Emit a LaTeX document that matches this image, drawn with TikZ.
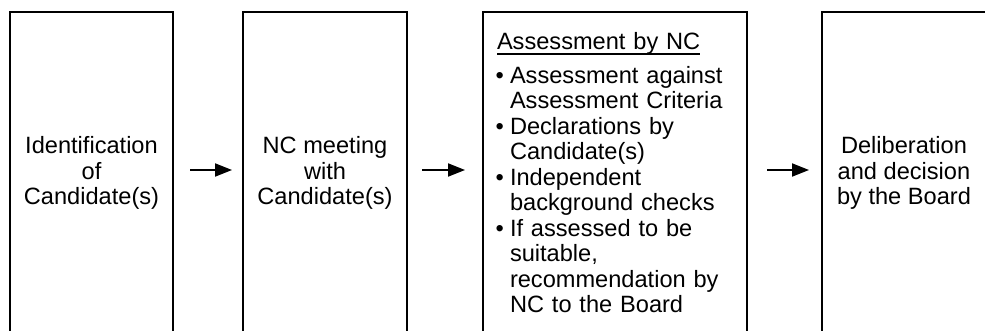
\documentclass[tikz,border=0pt]{standalone}
\usepackage{fontspec}
\setmainfont{Liberation Sans}
\usepackage{enumitem}
\usetikzlibrary{arrows.meta}

% underline set close under the baseline
\newcommand{\ulined}[1]{{\setbox0\hbox{#1}\rlap{\rule[-2.4pt]{\wd0}{0.7pt}}\box0}}

\begin{document}
\begin{tikzpicture}[x=0.5pt, y=-0.5pt, >={Triangle[length=8.5pt, width=6.5pt]},
  stage/.style={draw, line width=1pt, minimum height=161pt, inner sep=0pt, align=center,
    font=\fontsize{11.8pt}{12.75pt}\selectfont},
  flow/.style={->, line width=1pt}]

\clip (0,0) rectangle (985,331);

% Stages
\node[stage, minimum width=81.5pt] (ident) at (91.5,173) {Identification\\of\\Candidate(s)};
\node[stage, minimum width=82pt] (meet) at (325,173) {NC meeting\\with\\Candidate(s)};
\node[stage, minimum width=132pt, text width=118pt, inner xsep=7pt, align=left] (assess) at (615,173)
    {\ulined{Assessment by NC}
     \begin{itemize}[leftmargin=6.5pt, labelsep=3pt, topsep=4pt, partopsep=0pt, itemsep=0pt, parsep=0pt]
       \item Assessment against\newline Assessment Criteria
       \item Declarations by\newline Candidate(s)
       \item Independent\newline background checks
       \item If assessed to be\newline suitable,\newline recommendation by\newline NC to the Board
     \end{itemize}};
\node[stage, minimum width=82pt] (board) at (904,173) {Deliberation\\and decision\\by the Board};

% Arrows between stages
\draw[flow, shorten <=8pt, shorten >=5pt] ([yshift=1.5pt]ident.east) -- ([yshift=1.5pt]meet.west);
\draw[flow, shorten <=7pt, shorten >=8.5pt] ([yshift=1.5pt]meet.east) -- ([yshift=1.5pt]assess.west);
\draw[flow, shorten <=9.5pt, shorten >=6pt] ([yshift=1.5pt]assess.east) -- ([yshift=1.5pt]board.west);

\end{tikzpicture}
\end{document}
